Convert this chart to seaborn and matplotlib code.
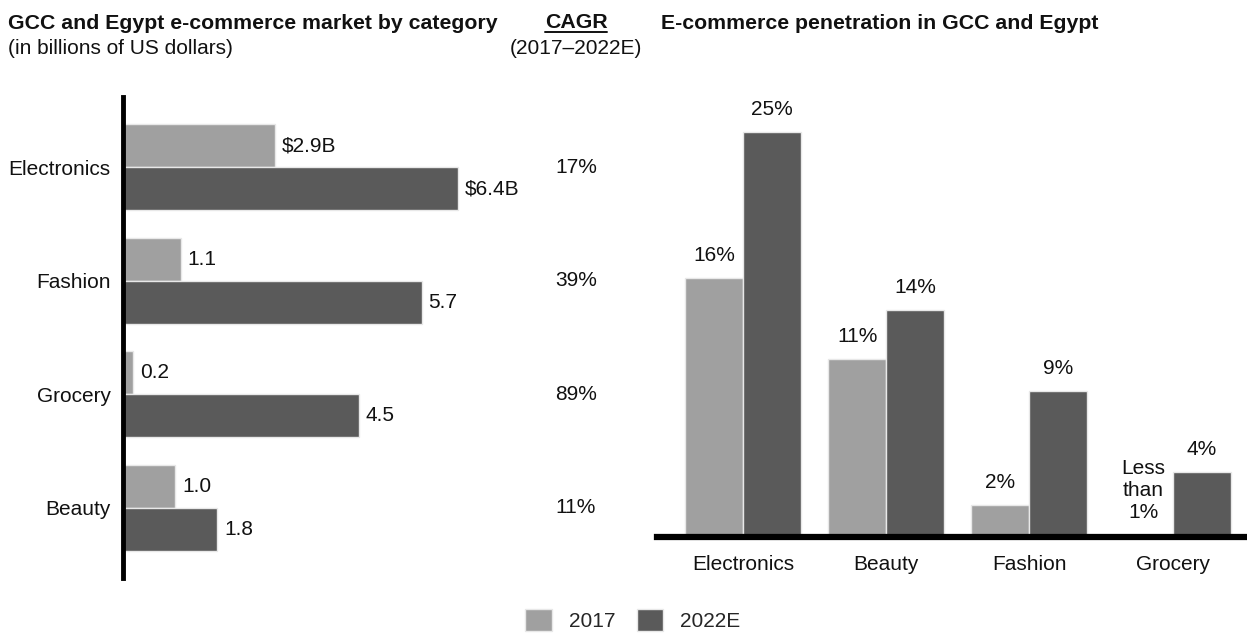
import matplotlib
matplotlib.use("Agg")
import matplotlib.pyplot as plt
import matplotlib.transforms as mtransforms
import seaborn as sns
import pandas as pd

# Market size by category (billions of US dollars)
market_categories = ["Electronics", "Fashion", "Grocery", "Beauty"]
market_2017 = [2.9, 1.1, 0.2, 1.0]
market_2022 = [6.4, 5.7, 4.5, 1.8]
market_labels_2017 = ["$2.9B", "1.1", "0.2", "1.0"]
market_labels_2022 = ["$6.4B", "5.7", "4.5", "1.8"]
cagr_labels = ["17%", "39%", "89%", "11%"]

# E-commerce penetration (percent)
pen_categories = ["Electronics", "Beauty", "Fashion", "Grocery"]
pen_2017 = [16, 11, 2, 0]
pen_2022 = [25, 14, 9, 4]
pen_labels_2017 = ["16%", "11%", "2%", "Less\nthan\n1%"]
pen_labels_2022 = ["25%", "14%", "9%", "4%"]

years = ["2017", "2022E"]
palette = {"2017": "#a0a0a0", "2022E": "#5a5a5a"}

sns.set_theme(style="white")
plt.rcParams["font.family"] = ["Liberation Sans", "DejaVu Sans"]
FS = 15
TXT = "#111111"

market_df = pd.DataFrame({
    "category": market_categories * 2,
    "year": [years[0]] * 4 + [years[1]] * 4,
    "value": market_2017 + market_2022,
})
pen_df = pd.DataFrame({
    "category": pen_categories * 2,
    "year": [years[0]] * 4 + [years[1]] * 4,
    "value": pen_2017 + pen_2022,
})

W, H = 1247, 634
fig = plt.figure(figsize=(W / 100, H / 100), dpi=100)


def fy(px):
    """Figure fraction for a pixel row measured from the top."""
    return 1 - px / H


# ---- left: horizontal grouped bars ----
ax1 = fig.add_axes([123 / W, (H - 578) / H, (520 - 123) / W, (578 - 97) / H])
sns.barplot(data=market_df, y="category", x="value", hue="year", orient="h",
            palette=palette, width=0.76, edgecolor="#e8e8e8", linewidth=1,
            ax=ax1, legend=False)
ax1.set_xlim(0, (520 - 123) / 52.4)
ax1.set_ylim(3.62, -0.62)
ax1.set_xlabel("")
ax1.set_ylabel("")
ax1.set_xticks([])
for s in ["top", "right", "bottom"]:
    ax1.spines[s].set_visible(False)
ax1.spines["left"].set_linewidth(3.5)
ax1.spines["left"].set_color("black")
ax1.tick_params(axis="y", length=0, pad=9, labelsize=FS, labelcolor=TXT)

bh = 0.38
for i in range(len(market_categories)):
    ax1.text(market_2017[i] + 0.13, i - bh / 2, market_labels_2017[i],
             va="center", ha="left", fontsize=FS, color=TXT)
    ax1.text(market_2022[i] + 0.13, i + bh / 2, market_labels_2022[i],
             va="center", ha="left", fontsize=FS, color=TXT)

# CAGR column
blend = mtransforms.blended_transform_factory(fig.transFigure, ax1.transData)
for i, c in enumerate(cagr_labels):
    ax1.text(576 / W, i, c, transform=blend, ha="center", va="center",
             fontsize=FS, color=TXT)

# ---- right: vertical grouped bars ----
ax2 = fig.add_axes([657 / W, (H - 537) / H, (W - 657) / W, (537 - 100) / H])
sns.barplot(data=pen_df, x="category", y="value", hue="year",
            palette=palette, width=0.81, edgecolor="#e8e8e8", linewidth=1,
            ax=ax2)
ax2.set_xlim(-0.6, 3.52)
ax2.set_ylim(0, (537 - 100) / 16.2)
ax2.set_xlabel("")
ax2.set_ylabel("")
ax2.set_yticks([])
for s in ["top", "right", "left"]:
    ax2.spines[s].set_visible(False)
ax2.spines["bottom"].set_linewidth(4.5)
ax2.spines["bottom"].set_color("black")
ax2.tick_params(axis="x", length=0, pad=13, labelsize=FS, labelcolor=TXT)

bw = 0.405
for i in range(len(pen_categories)):
    multi = "\n" in pen_labels_2017[i]
    ax2.text(i - bw / 2, pen_2017[i] + (0.95 if multi else 0.8),
             pen_labels_2017[i], ha="center", va="bottom", fontsize=FS,
             color=TXT, linespacing=1.2)
    ax2.text(i + bw / 2, pen_2022[i] + 0.8, pen_labels_2022[i],
             ha="center", va="bottom", fontsize=FS, color=TXT)

sns.move_legend(ax2, "lower center", bbox_to_anchor=(633 / W, -0.025),
                bbox_transform=fig.transFigure, ncol=2, frameon=False,
                title=None, fontsize=FS, handlelength=1.25, handleheight=1.25,
                columnspacing=1.0, handletextpad=0.85)

# ---- titles ----
TFS = 15.3
fig.text(8 / W, fy(29), "GCC and Egypt e-commerce market by category",
         ha="left", va="baseline", fontsize=TFS, fontweight="bold", color=TXT)
fig.text(8 / W, fy(54), "(in billions of US dollars)",
         ha="left", va="baseline", fontsize=15, color=TXT)
fig.text(576 / W, fy(28), "CAGR", ha="center", va="baseline", fontsize=TFS,
         fontweight="bold", color=TXT)
fig.add_artist(plt.Line2D([545 / W, 607 / W], [fy(32), fy(32)],
                          color=TXT, linewidth=1.4))
fig.text(576 / W, fy(54), "(2017\u20132022E)", ha="center", va="baseline",
         fontsize=15, color=TXT)
fig.text(661 / W, fy(29), "E-commerce penetration in GCC and Egypt",
         ha="left", va="baseline", fontsize=TFS, fontweight="bold", color=TXT)

fig.savefig("out.png", dpi=100, facecolor="white")
